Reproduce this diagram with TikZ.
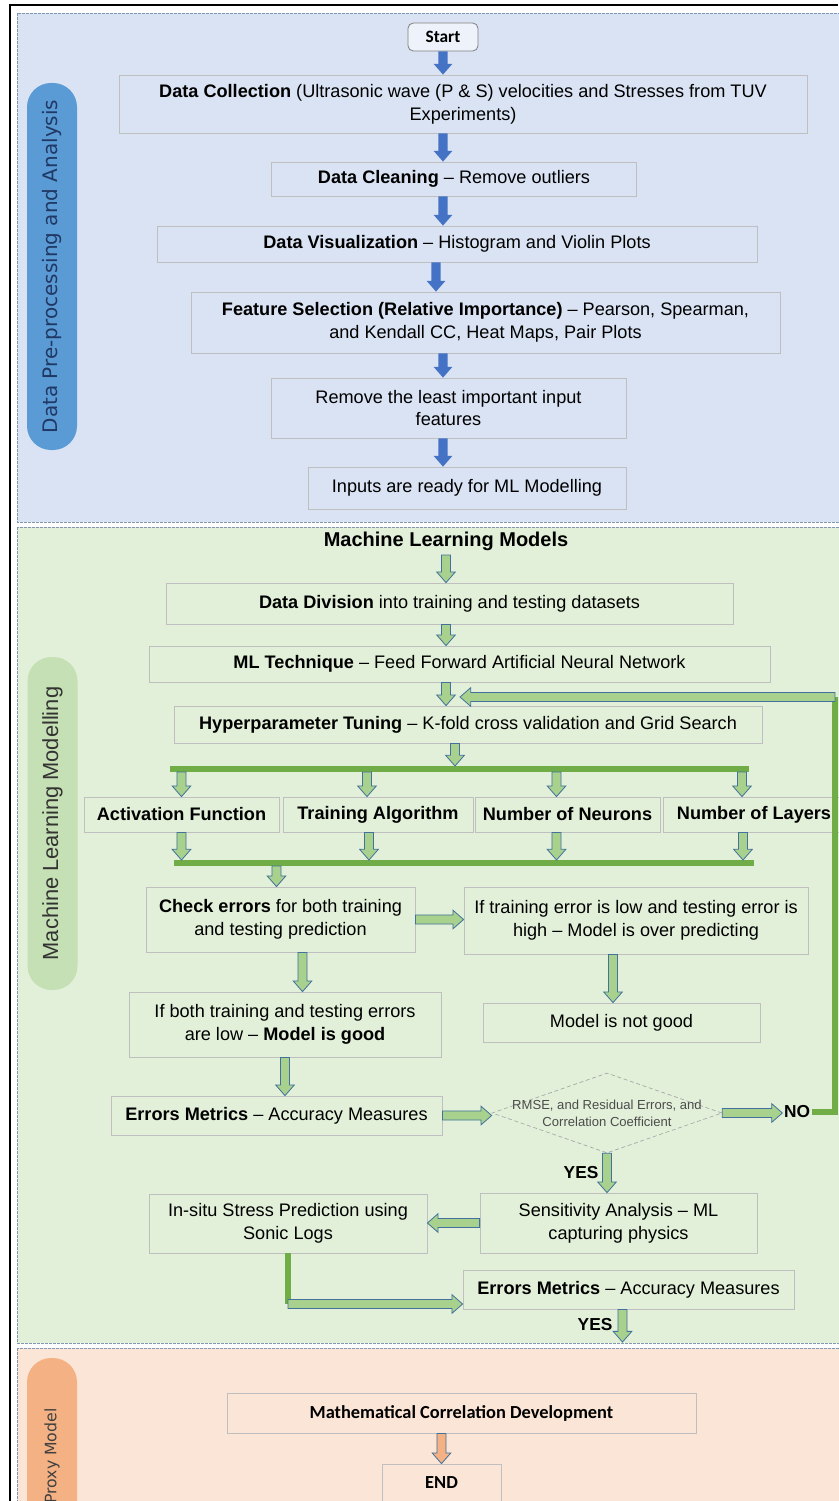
\documentclass[tikz,border=0pt]{standalone}
\usepackage{fontspec}
\setmainfont{Liberation Sans}
\newfontfamily\sidefont{DejaVu Sans}
\newfontfamily\calfont{Carlito}
\usepackage{tikz}
\usetikzlibrary{calc,shapes.geometric}

\definecolor{secblue}{RGB}{218,227,243}
\definecolor{secgreen}{RGB}{226,240,217}
\definecolor{secorange}{RGB}{251,229,214}
\definecolor{secedge}{RGB}{132,151,176}
\definecolor{pillblue}{RGB}{91,155,213}
\definecolor{pillgreen}{RGB}{197,224,180}
\definecolor{pillorange}{RGB}{244,177,131}
\definecolor{pilltxt}{RGB}{32,56,100}
\definecolor{arrblue}{RGB}{68,114,196}
\definecolor{arrgreen}{RGB}{169,209,142}
\definecolor{arrorange}{RGB}{244,177,131}
\definecolor{arredge}{RGB}{65,113,156}
\definecolor{bargreen}{RGB}{112,173,71}
\definecolor{boxgray}{RGB}{191,191,191}

\def\px{0.75pt}
\def\arsw{3.4pt}\def\arhw{7pt}\def\arhl{8pt}
\newcommand{\bxfont}{\fontsize{13.6}{17}\selectfont}

% block arrows: down (x of #2, tip at y of #3), right and left (y of #2, tip at x of #3)
\newcommand{\dnarrow}[3]{\draw[#1] let \p1=(#2), \p2=(#3) in
  (\x1-\arsw,\y1) -- (\x1-\arsw,\y2+\arhl) -- (\x1-\arhw,\y2+\arhl) -- (\x1,\y2)
  -- (\x1+\arhw,\y2+\arhl) -- (\x1+\arsw,\y2+\arhl) -- (\x1+\arsw,\y1) -- cycle;}
\newcommand{\rtarrow}[3]{\draw[#1] let \p1=(#2), \p2=(#3) in
  (\x1,\y1-\arsw) -- (\x2-\arhl,\y1-\arsw) -- (\x2-\arhl,\y1-\arhw) -- (\x2,\y1)
  -- (\x2-\arhl,\y1+\arhw) -- (\x2-\arhl,\y1+\arsw) -- (\x1,\y1+\arsw) -- cycle;}
\newcommand{\ltarrow}[3]{\draw[#1] let \p1=(#2), \p2=(#3) in
  (\x1,\y1-\arsw) -- (\x2+\arhl,\y1-\arsw) -- (\x2+\arhl,\y1-\arhw) -- (\x2,\y1)
  -- (\x2+\arhl,\y1+\arhw) -- (\x2+\arhl,\y1+\arsw) -- (\x1,\y1+\arsw) -- cycle;}

\begin{document}
\begin{tikzpicture}[x=0.75pt,y=-0.75pt]
      \tikzstyle{sec}=[draw=secedge,line width=0.5pt,dash pattern=on 2pt off 1pt]
      \tikzstyle{pill}=[rotate=90,minimum height=50*\px,rounded corners=18pt,inner sep=0pt]
      \tikzstyle{box}=[draw=boxgray,line width=0.6pt,align=center,inner sep=2pt,font=\bxfont]
      \tikzstyle{startbox}=[box,rounded corners=4pt,draw=gray,fill=white!55!secblue,font=\calfont\bfseries\fontsize{13}{15}\selectfont]
      \tikzstyle{calbox}=[box,font=\calfont\bfseries\fontsize{13.8}{16}\selectfont]
      \tikzstyle{decision}=[diamond,draw=gray!70,dash pattern=on 3pt off 2pt,line width=0.5pt,inner sep=0pt]
      \tikzstyle{yn}=[font=\bfseries\fontsize{13}{15}\selectfont,inner sep=1pt]
      \tikzstyle{blk}=[fill=arrblue,draw=none]
      \tikzstyle{grn}=[fill=arrgreen,draw=arredge,line width=0.6pt]
      \tikzstyle{org}=[fill=arrorange,draw=arredge,line width=0.6pt]
      \tikzstyle{bar}=[draw=bargreen,line width=4.5pt]
      \useasboundingbox (0,0) rectangle (838,1501);
      \fill[white] (0,0) rectangle (838,1501);

      % sections
      \draw[sec,fill=secblue] (17,13) rectangle (850,522);
      \draw[sec,fill=secgreen] (17,527) rectangle (850,1343);
      \draw[sec,fill=secorange] (17,1348) rectangle (850,1560);
      \draw[line width=1.2pt] (10,1501) -- (10,5) -- (838,5);

      \node[pill,fill=pillblue,text=pilltxt,minimum width=367*\px,font=\sidefont\fontsize{15}{17}\selectfont] (pp) at (52,266.5) {Data Pre-processing and Analysis};
      \node[pill,fill=pillgreen,text=black!80,minimum width=333*\px,font=\fontsize{16.4}{18}\selectfont] (mlp) at (52.5,823.5) {Machine Learning Modelling};
      \node[pill,fill=pillorange,text=black!75,minimum width=196*\px,font=\sidefont\fontsize{11.8}{13}\selectfont] (pxp) at (52,1456) {Proxy Model};

      % data pre-processing
      \node[startbox,minimum width=70*\px,minimum height=28*\px] (start) at (443,37) {Start};
      \node[box,minimum width=688*\px,minimum height=58*\px] (dcol) at (463,104) {\textbf{Data Collection} (Ultrasonic wave (P \& S) velocities and Stresses from TUV\\Experiments)};
      \node[box,minimum width=365*\px,minimum height=34*\px] (dclean) at (454,179) {\textbf{Data Cleaning} – Remove outliers};
      \node[box,minimum width=600*\px,minimum height=36*\px] (dviz) at (457,244) {\textbf{Data Visualization} – Histogram and Violin Plots};
      \node[box,minimum width=589*\px,minimum height=61*\px] (fsel) at (485.5,322.5) {\textbf{Feature Selection (Relative Importance)} – Pearson, Spearman,\\and Kendall CC, Heat Maps, Pair Plots};
      \node[box,minimum width=355*\px,minimum height=60*\px] (rmv) at (448.5,408) {Remove the least important input\\features};
      \node[box,minimum width=318*\px,minimum height=42*\px] (inp) at (467,488) {Inputs are ready for ML Modelling};

      \dnarrow{blk}{start.south}{dcol.north}
      \dnarrow{blk}{dcol.south -| start.south}{dclean.north}
      \dnarrow{blk}{dclean.south -| start.south}{dviz.north}
      \dnarrow{blk}{$(dviz.south)+(-21,0)$}{fsel.north}
      \dnarrow{blk}{fsel.south -| start.south}{rmv.north}
      \dnarrow{blk}{rmv.south -| start.south}{inp.north}

      % machine learning
      \node[font=\bfseries\fontsize{15}{17}\selectfont] (mlm) at (446,541) {Machine Learning Models};
      \node[box,minimum width=567*\px,minimum height=41*\px] (dd) at (449.5,603.5) {\textbf{Data Division} into training and testing datasets};
      \node[box,minimum width=621*\px,minimum height=36*\px] (mlt) at (459.5,664) {\textbf{ML Technique} – Feed Forward Artificial Neural Network};
      \node[box,minimum width=588*\px,minimum height=37*\px] (hyp) at (468,724.5) {\textbf{Hyperparameter Tuning} – K-fold cross validation and Grid Search};
      \node[box,minimum width=195*\px,minimum height=35*\px] (act) at (181.5,814.5) {\textbf{Activation Function}};
      \node[box,minimum width=190*\px,minimum height=35*\px] (trn) at (378,814.5) {\textbf{Training Algorithm}};
      \node[box,minimum width=185*\px,minimum height=35*\px] (neu) at (567.5,814.5) {\textbf{Number of Neurons}};
      \node[box,minimum width=182*\px,minimum height=35*\px] (lay) at (754,814.5) {\textbf{Number of Layers}};
      \node[box,minimum width=269*\px,minimum height=65*\px] (chk) at (280.5,919.5) {\textbf{Check errors} for both training\\and testing prediction};
      \node[box,minimum width=344*\px,minimum height=67*\px] (over) at (636,920.5) {If training error is low and testing error is\\high – Model is over predicting};
      \node[box,minimum width=312*\px,minimum height=65*\px] (good) at (285,1024.5) {If both training and testing errors\\are low – \textbf{Model is good}};
      \node[box,minimum width=277*\px,minimum height=39*\px] (ng) at (621.5,1022.5) {Model is not good};
      \node[box,minimum width=331*\px,minimum height=39*\px] (em1) at (276.5,1115.5) {\textbf{Errors Metrics} – Accuracy Measures};
      \node[decision,minimum width=230*\px,minimum height=80*\px,label={[align=center,text=black!70,font=\fontsize{9.8}{12.5}\selectfont]center:{RMSE, and Residual Errors, and\\Correlation Coefficient}}] (dia) at (607,1113) {};
      \node[yn] (no) at (797,1112) {NO};
      \node[yn,anchor=east] (yes1) at (600,1173) {YES};
      \node[box,minimum width=277*\px,minimum height=60*\px] (sens) at (618.5,1223) {Sensitivity Analysis – ML\\capturing physics};
      \node[box,minimum width=278*\px,minimum height=59*\px] (insitu) at (288,1223.5) {In-situ Stress Prediction using\\Sonic Logs};
      \node[box,minimum width=331*\px,minimum height=39*\px] (em2) at (628.5,1289.5) {\textbf{Errors Metrics} – Accuracy Measures};
      \node[yn,anchor=east] (yes2) at (614,1325) {YES};
      \coordinate (b1l) at (170,769);
      \coordinate (b1r) at (749,769);
      \coordinate (b2l) at (174,863);
      \coordinate (b2r) at (754,863);
      \coordinate (fbr) at (835,1112);
      \coordinate (fbt) at (835,697);
      \coordinate (fbtip) at (460,697);
      \coordinate (iscorner) at (288,1304);
      \coordinate (pxtop) at (623,1342);

      \draw[bar] (b1l) -- (b1r);
      \draw[bar] (b2l) -- (b2r);
      \draw[bar] (no.east) -- (fbr) -- (fbt);
      \draw[bar] (insitu.south) -- (iscorner);

      \dnarrow{grn}{mlm.south}{dd.north}
      \dnarrow{grn}{dd.south -| mlm.south}{mlt.north}
      \dnarrow{grn}{mlt.south -| mlm.south}{hyp.north}
      \ltarrow{grn}{fbt}{fbtip}
      \dnarrow{grn}{$(hyp.south)+(-13,0)$}{$(b1l)+(0,-3)$}
      \foreach \nm/\off in {act/0,trn/-11,neu/-11,lay/-12}
        \dnarrow{grn}{$(\nm.north |- b1l)+(\off,3)$}{\nm.north};
      \foreach \nm/\off in {act/0,trn/-9,neu/-11,lay/-11}
        \dnarrow{grn}{$(\nm.south)+(\off,0)$}{$(b2l)+(0,-3)$};
      \dnarrow{grn}{$(chk.north |- b2l)+(-4,3)$}{chk.north}
      \rtarrow{grn}{chk.east}{over.west}
      \dnarrow{grn}{$(chk.south)+(22,0)$}{good.north}
      \dnarrow{grn}{$(over.south)+(-23,0)$}{ng.north}
      \dnarrow{grn}{good.south}{em1.north}
      \rtarrow{grn}{em1.east}{dia.west}
      \rtarrow{grn}{dia.east}{no.west}
      \dnarrow{grn}{dia.south}{sens.north}
      \ltarrow{grn}{sens.west}{insitu.east}
      \rtarrow{grn}{iscorner}{em2.west}
      \dnarrow{grn}{$(em2.south)+(-6,0)$}{pxtop}

      % proxy model
      \node[calbox,minimum width=469*\px,minimum height=40*\px] (mcd) at (461.5,1413) {Mathematical Correlation Development};
      \node[calbox,minimum width=119*\px,minimum height=38*\px] (fin) at (441.5,1483) {END};
      \dnarrow{org}{fin.north |- mcd.south}{fin.north}
\end{tikzpicture}
\end{document}
